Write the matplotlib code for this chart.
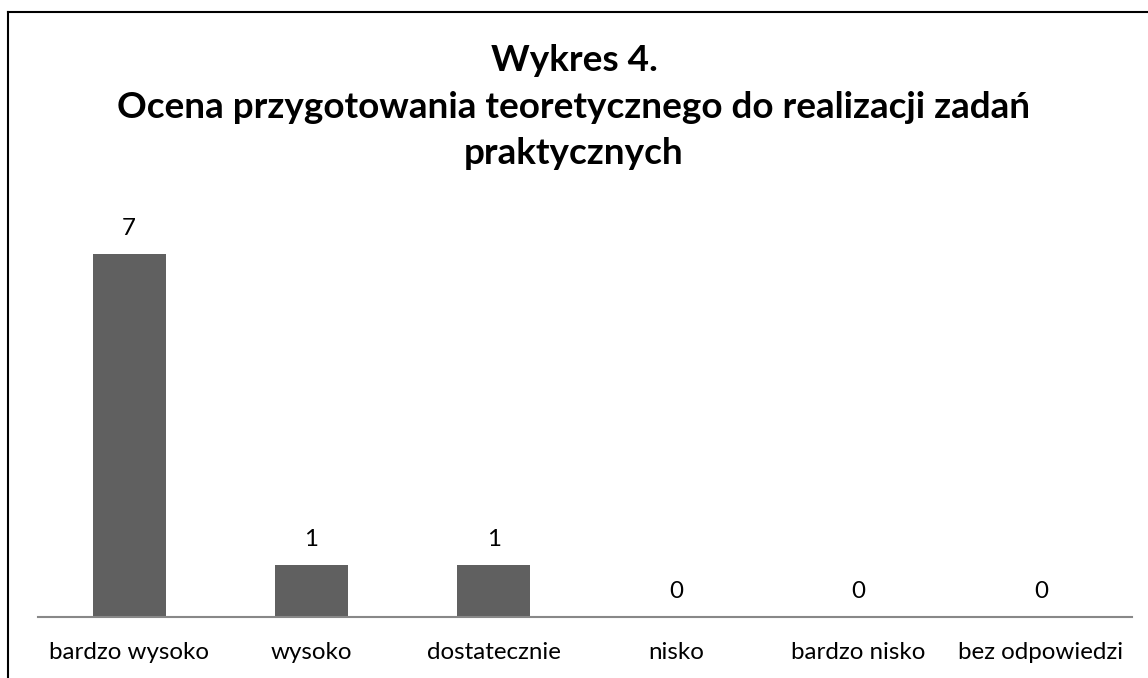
import matplotlib
matplotlib.use("Agg")
import matplotlib.pyplot as plt
from matplotlib.lines import Line2D

categories = ["bardzo wysoko", "wysoko", "dostatecznie", "nisko", "bardzo nisko", "bez odpowiedzi"]
values = [7, 1, 1, 0, 0, 0]
title = "Wykres 4.\nOcena przygotowania teoretycznego do realizacji zadań\npraktycznych"

plt.rcParams["font.family"] = ["Lato", "DejaVu Sans"]

W, H = 1148, 678
fig = plt.figure(figsize=(W / 100, H / 100), dpi=100)

# outer frame like the Excel chart area
fig.add_artist(Line2D([8 / W, 8 / W], [0, 1 - 12 / H], transform=fig.transFigure, color="black", lw=1.5))
fig.add_artist(Line2D([8 / W, 1], [1 - 12 / H, 1 - 12 / H], transform=fig.transFigure, color="black", lw=1.5))

ax = fig.add_axes([38 / W, (H - 617) / H, 1094 / W, 415 / H])
x = range(len(categories))
ax.bar(x, values, width=0.4, color="#606060")
ax.set_xlim(-0.5, len(categories) - 0.5)
ax.set_ylim(0, 8)

for s in ["top", "right", "left"]:
    ax.spines[s].set_visible(False)
ax.spines["bottom"].set_color("#888888")
ax.spines["bottom"].set_linewidth(1.5)
ax.set_yticks([])
ax.set_xticks(list(x))
ax.set_xticklabels(categories, fontsize=17.4)
ax.tick_params(axis="x", length=0, pad=18)

for xi, v in zip(x, values):
    ax.annotate(str(v), (xi, v), xytext=(0, 11), textcoords="offset points",
                ha="center", va="bottom", fontsize=17.4)

fig.text(0.5, 1 - 107 / H, title, ha="center", va="center", fontsize=26.6,
         fontweight="bold", linespacing=1.49)

fig.savefig("out.png", dpi=100)
